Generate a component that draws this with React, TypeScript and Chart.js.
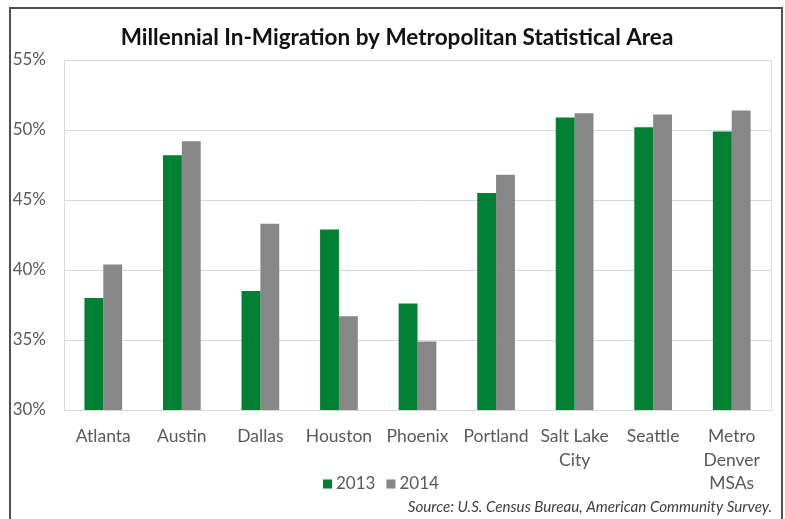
import React, { useEffect, useRef } from "react";
import { Chart, registerables } from "chart.js";

Chart.register(...registerables);

const categories: (string | string[])[] = [
  "Atlanta",
  "Austin",
  "Dallas",
  "Houston",
  "Phoenix",
  "Portland",
  ["Salt Lake", "City"],
  "Seattle",
  ["Metro", "Denver", "MSAs"],
];
const values2013 = [38.0, 48.2, 38.5, 42.9, 37.6, 45.5, 50.9, 50.2, 49.9];
const values2014 = [40.4, 49.2, 43.3, 36.7, 34.9, 46.8, 51.2, 51.1, 51.4];
const seriesLabels = ["2013", "2014"];
const seriesColors = ["#008033", "#878787"];
const titleText = "Millennial In-Migration by Metropolitan Statistical Area";
const sourceText = "Source: U.S. Census Bureau, American Community Survey.";
const yMin = 30;
const yMax = 55;
const yStep = 5;

const FONT = "Lato, 'Open Sans', sans-serif";

const decorPlugin = {
  id: "decor",
  beforeDatasetsDraw(chart: any) {
    const { ctx, chartArea } = chart;
    ctx.save();
    ctx.strokeStyle = "#d9d9d9";
    ctx.lineWidth = 1;
    ctx.strokeRect(
      Math.round(chartArea.left) + 0.5,
      Math.round(chartArea.top) + 0.5,
      Math.round(chartArea.right - chartArea.left),
      Math.round(chartArea.bottom - chartArea.top)
    );
    ctx.restore();
  },
  afterDraw(chart: any) {
    const { ctx } = chart;
    ctx.save();
    // title
    ctx.fillStyle = "#111111";
    ctx.font = `bold 22.5px ${FONT}`;
    ctx.textAlign = "center";
    ctx.textBaseline = "middle";
    ctx.fillText(titleText, 397, 38);

    // legend
    ctx.font = `17px ${FONT}`;
    ctx.textAlign = "left";
    let x = 323;
    const y = 484;
    chart.data.datasets.forEach((ds: any, i: number) => {
      ctx.fillStyle = ds.backgroundColor;
      ctx.fillRect(x, y - 4.5, 9, 9);
      ctx.fillStyle = "#595959";
      ctx.fillText(ds.label, x + 13, y);
      x += 13 + ctx.measureText(ds.label).width + 11;
    });

    // source
    ctx.font = `italic 15.2px ${FONT}`;
    ctx.fillStyle = "#404040";
    ctx.textAlign = "right";
    ctx.fillText(sourceText, 772, 507);
    ctx.restore();
  },
};

export default function App() {
  const canvasRef = useRef<HTMLCanvasElement | null>(null);

  useEffect(() => {
    document.body.style.margin = "0";
    const canvas = canvasRef.current;
    if (!canvas) return;
    const chart = new Chart(canvas, {
      type: "bar",
      data: {
        labels: categories,
        datasets: [
          {
            label: seriesLabels[0],
            data: values2013,
            backgroundColor: seriesColors[0],
            borderWidth: 0,
            categoryPercentage: 0.48,
            barPercentage: 1,
          },
          {
            label: seriesLabels[1],
            data: values2014,
            backgroundColor: seriesColors[1],
            borderWidth: 0,
            categoryPercentage: 0.48,
            barPercentage: 1,
          },
        ],
      },
      options: {
        responsive: false,
        animation: false,
        devicePixelRatio: 1,
        layout: { padding: { top: 60, left: 12, right: 14, bottom: 0 } },
        plugins: {
          legend: { display: false },
          title: { display: false },
          tooltip: { enabled: false },
        },
        scales: {
          x: {
            grid: { display: false, drawTicks: false },
            border: { display: false },
            ticks: {
              color: "#595959",
              font: { family: FONT, size: 17.5, lineHeight: 1.34 },
              padding: 15,
              maxRotation: 0,
              autoSkip: false,
            },
            afterFit(scale: any) {
              scale.height = 109;
            },
          },
          y: {
            min: yMin,
            max: yMax,
            grid: { color: "#d9d9d9", drawTicks: false },
            border: { display: false },
            ticks: {
              stepSize: yStep,
              color: "#595959",
              font: { family: FONT, size: 17 },
              padding: 18,
              callback: (v: any) => `${v}%`,
            },
            afterFit(scale: any) {
              scale.width = 52;
            },
          },
        },
      },
      plugins: [decorPlugin],
    });
    return () => chart.destroy();
  }, []);

  return (
    <div style={{ position: "relative", width: 785, height: 519, overflow: "hidden", background: "#fff" }}>
      <div
        style={{
          position: "absolute",
          left: 9,
          top: 7,
          width: 774,
          height: 600,
          border: "2px solid #505050",
          boxSizing: "border-box",
        }}
      />
      <canvas
        ref={canvasRef}
        width={785}
        height={519}
        style={{ position: "absolute", left: 0, top: 0, width: 785, height: 519 }}
      />
    </div>
  );
}
